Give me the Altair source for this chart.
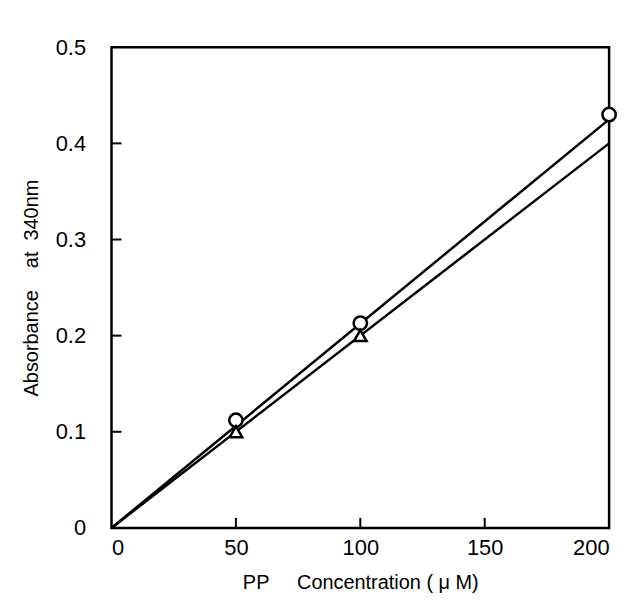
import altair as alt
import pandas as pd

conc = [50, 100, 200]
abs_circle = [0.112, 0.213, 0.43]
abs_triangle = [0.1, 0.2]
line_x = [0, 200]
line_circle = [0, 0.425]
line_triangle = [0, 0.4]
x_ticks = [0, 50, 100, 150, 200]
y_ticks = [0, 0.1, 0.2, 0.3, 0.4, 0.5]

W, H = 500, 483
NB = "\u00a0"

common = dict(ticks=False, grid=False, domain=False, labelFont="Liberation Sans",
              titleFont="Liberation Sans", labelFontSize=22, titleFontSize=20,
              titleFontWeight="normal", labelColor="black", titleColor="black")

pts_c = pd.DataFrame({"x": conc, "y": abs_circle})
pts_t = pd.DataFrame({"x": conc[:2], "y": abs_triangle})
lines = pd.DataFrame({
    "x": line_x * 2,
    "y": line_circle + line_triangle,
    "s": ["c", "c", "t", "t"],
})

xs = alt.Scale(domain=[0, 200], nice=False)
ys = alt.Scale(domain=[0, 0.5], nice=False)
xax = alt.Axis(values=x_ticks, format="d", labelPadding=10,
               title=f"PP{NB*5}Concentration{NB}({NB}μ{NB}M)", titlePadding=14, **common)
yax = alt.Axis(values=y_ticks, labelExpr="datum.value == 0 ? '0' : format(datum.value, '.1f')",
               labelPadding=26, title=f"Absorbance{NB*4}at{NB*2}340nm", titlePadding=14, **common)

base_x = alt.X("x:Q", scale=xs, axis=xax)
base_y = alt.Y("y:Q", scale=ys, axis=yax)

line_layer = alt.Chart(lines).mark_line(color="black", strokeWidth=2.5).encode(
    x=base_x, y=base_y, detail="s:N")
circ = alt.Chart(pts_c).mark_point(shape="circle", size=180, filled=True, fill="white",
                                   stroke="black", strokeWidth=2.5, opacity=1).encode(x="x:Q", y="y:Q")
tri = alt.Chart(pts_t).mark_point(shape="triangle-up", size=160, filled=True, fill="white",
                                  stroke="black", strokeWidth=2.5, opacity=1).encode(x="x:Q", y="y:Q")

xt = pd.DataFrame({"x": x_ticks[1:-1]})
yt = pd.DataFrame({"y": y_ticks[1:-1]})
xtick = alt.Chart(xt).mark_rule(color="black", strokeWidth=2).encode(
    x="x:Q", y=alt.value(H), y2=alt.value(H - 10))
ytick = alt.Chart(yt).mark_rule(color="black", strokeWidth=2).encode(
    y="y:Q", x=alt.value(0), x2=alt.value(10))

chart = alt.layer(line_layer, circ, tri, xtick, ytick).properties(
    width=W, height=H, padding={"left": 13, "top": 27, "right": 10, "bottom": 5}
).configure_view(stroke="black", strokeWidth=2.5)

chart.save("out.html", embed_options={"renderer": "svg", "actions": False})
